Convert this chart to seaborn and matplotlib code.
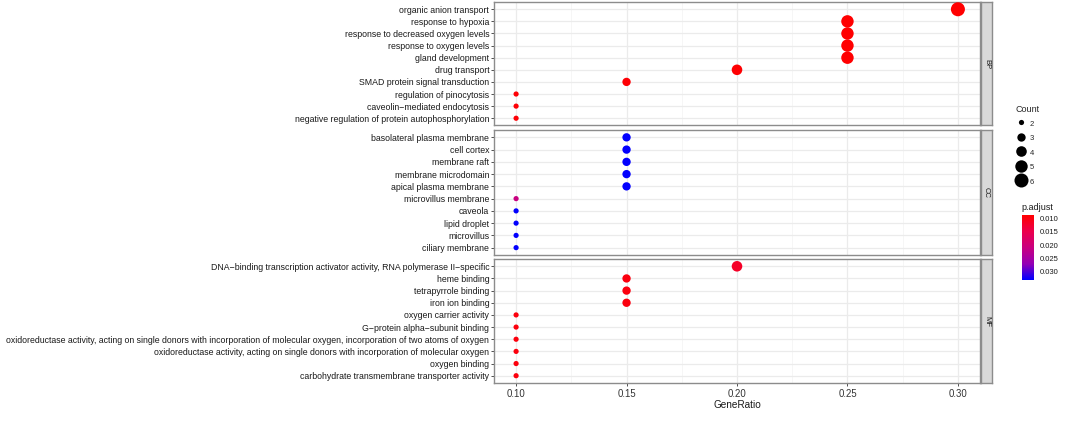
import numpy as np
import pandas as pd
import matplotlib
matplotlib.use("Agg")
import matplotlib.pyplot as plt
import seaborn as sns
from matplotlib.colors import LinearSegmentedColormap, Normalize
from matplotlib.cm import ScalarMappable
from matplotlib.lines import Line2D

sns.set_theme(style="white")
plt.rcParams["font.family"] = ["Liberation Sans", "DejaVu Sans"]

M = "\u2212"
# ---------------- data ----------------
ontologies = ["BP", "CC", "MF"]

bp_terms = ["organic anion transport", "response to hypoxia",
            "response to decreased oxygen levels", "response to oxygen levels",
            "gland development", "drug transport", "SMAD protein signal transduction",
            "regulation of pinocytosis", f"caveolin{M}mediated endocytosis",
            "negative regulation of protein autophosphorylation"]
bp_ratio = [0.30, 0.25, 0.25, 0.25, 0.25, 0.20, 0.15, 0.10, 0.10, 0.10]
bp_count = [6, 5, 5, 5, 5, 4, 3, 2, 2, 2]
bp_padj = [0.0087, 0.0087, 0.0087, 0.0087, 0.0087, 0.0088, 0.0089, 0.0090, 0.0090, 0.0090]

cc_terms = ["basolateral plasma membrane", "cell cortex", "membrane raft",
            "membrane microdomain", "apical plasma membrane", "microvillus membrane",
            "caveola", "lipid droplet", "microvillus", "ciliary membrane"]
cc_ratio = [0.15, 0.15, 0.15, 0.15, 0.15, 0.10, 0.10, 0.10, 0.10, 0.10]
cc_count = [3, 3, 3, 3, 3, 2, 2, 2, 2, 2]
cc_padj = [0.0330, 0.0330, 0.0330, 0.0330, 0.0330, 0.0210, 0.0330, 0.0330, 0.0330, 0.0330]

mf_terms = [f"DNA{M}binding transcription activator activity, RNA polymerase II{M}specific",
            "heme binding", "tetrapyrrole binding", "iron ion binding",
            "oxygen carrier activity", f"G{M}protein alpha{M}subunit binding",
            "oxidoreductase activity, acting on single donors with incorporation of molecular oxygen, incorporation of two atoms of oxygen",
            "oxidoreductase activity, acting on single donors with incorporation of molecular oxygen",
            "oxygen binding", "carbohydrate transmembrane transporter activity"]
mf_ratio = [0.20, 0.15, 0.15, 0.15, 0.10, 0.10, 0.10, 0.10, 0.10, 0.10]
mf_count = [4, 3, 3, 3, 2, 2, 2, 2, 2, 2]
mf_padj = [0.0118, 0.0098, 0.0098, 0.0098, 0.0097, 0.0097, 0.0097, 0.0097, 0.0097, 0.0097]

x_ticks = [0.10, 0.15, 0.20, 0.25, 0.30]
x_ticklabels = ["0.10", "0.15", "0.20", "0.25", "0.30"]
count_levels = [2, 3, 4, 5, 6]
padj_ticks = [0.010, 0.015, 0.020, 0.025, 0.030]
padj_ticklabels = ["0.010", "0.015", "0.020", "0.025", "0.030"]

groups = {
    "BP": (bp_terms, bp_ratio, bp_count, bp_padj),
    "CC": (cc_terms, cc_ratio, cc_count, cc_padj),
    "MF": (mf_terms, mf_ratio, mf_count, mf_padj),
}

# ---------------- styling ----------------
cmap = LinearSegmentedColormap.from_list(
    "rb", ["#FF0000", "#EC004C", "#C9007F", "#9500B4", "#0000FF"])
norm = Normalize(vmin=0.0086, vmax=0.0331)
SIZES = (14, 102)

W, H = 1065, 436
fig = plt.figure(figsize=(W / 100, H / 100), dpi=100)

panel_px = {"BP": (2, 125.5), "CC": (130, 255), "MF": (259, 383)}
left_px, right_px = 494, 980
strip_l, strip_r = 981, 992
border_col = "#8C8C8C"

for i, ont in enumerate(ontologies):
    terms, ratio, count, padj = groups[ont]
    top, bot = panel_px[ont]
    rect = [left_px / W, 1 - bot / H, (right_px - left_px) / W, (bot - top) / H]
    ax = fig.add_axes(rect)
    df = pd.DataFrame({"Description": terms, "GeneRatio": ratio,
                       "Count": count, "p.adjust": padj})
    sns.scatterplot(data=df, x="GeneRatio", y="Description", hue="p.adjust",
                    size="Count", palette=cmap, hue_norm=norm, sizes=SIZES,
                    size_norm=(2, 6), legend=False, edgecolor="none",
                    linewidth=0, ax=ax, zorder=3)
    n = len(terms)
    ax.set_xlim(0.09, 0.31)
    ax.set_ylim(n - 0.4, -0.6)
    ax.set_xticks(x_ticks)
    ax.set_xticks([0.125, 0.175, 0.225, 0.275], minor=True)
    ax.grid(which="major", color="#EBEBEB", linewidth=0.9)
    ax.grid(which="minor", axis="x", color="#F3F3F3", linewidth=0.5)
    ax.set_axisbelow(True)
    ax.set_facecolor("white")
    for sp in ax.spines.values():
        sp.set_color(border_col)
        sp.set_linewidth(1.0)
    ax.set_ylabel("")
    ax.tick_params(axis="y", left=True, length=2.5, width=0.6, color="#333333",
                   labelsize=6.32, labelcolor="#1A1A1A", pad=1)
    if ont == "MF":
        ax.set_xticklabels(x_ticklabels)
        ax.tick_params(axis="x", bottom=True, length=2.5, width=0.6, color="#333333",
                       labelsize=6.9, labelcolor="#333333", pad=1.5)
        ax.set_xlabel("GeneRatio", fontsize=7.2, color="#1A1A1A", labelpad=1)
    else:
        ax.set_xticklabels([])
        ax.tick_params(axis="x", bottom=False)
        ax.set_xlabel("")
    ax.tick_params(axis="x", which="minor", bottom=False)

    sax = fig.add_axes([strip_l / W, 1 - bot / H, (strip_r - strip_l) / W, (bot - top) / H])
    sax.set_facecolor("#D9D9D9")
    sax.set_xticks([]); sax.set_yticks([])
    for sp in sax.spines.values():
        sp.set_color(border_col)
        sp.set_linewidth(1.0)
    sax.text(0.5, 0.5, ont, rotation=-90, ha="center", va="center",
             fontsize=5.5, color="#1A1A1A", transform=sax.transAxes)

# ---------------- Count legend ----------------
handles = []
for c in count_levels:
    s = SIZES[0] + (SIZES[1] - SIZES[0]) * (c - 2) / 4
    handles.append(Line2D([], [], linestyle="none", marker="o", markersize=np.sqrt(s),
                          markerfacecolor="black", markeredgecolor="none"))
leg = fig.legend(handles, [str(c) for c in count_levels], title="Count",
                 loc="upper left", bbox_to_anchor=(1014 / W, 1 - 103 / H),
                 frameon=False, fontsize=5.5, title_fontsize=6.5,
                 handleheight=1.6, labelspacing=0.62, handlelength=1.4,
                 handletextpad=0.5, borderaxespad=0, borderpad=0.2,
                 alignment="left")

# ---------------- p.adjust colourbar ----------------
fig.text(1021 / W, 1 - 207 / H, "p.adjust", fontsize=6.5, color="#1A1A1A",
         ha="left", va="center")
cax = fig.add_axes([1022 / W, 1 - 280 / H, 12 / W, 65 / H])
cb = fig.colorbar(ScalarMappable(norm=norm, cmap=cmap), cax=cax)
cax.invert_yaxis()
cb.set_ticks(padj_ticks)
cb.set_ticklabels(padj_ticklabels)
cb.outline.set_visible(False)
cax.tick_params(length=2, width=0.6, color="white", labelsize=5.5,
                labelcolor="#1A1A1A", pad=2)

fig.savefig("out.png", dpi=100, facecolor="white")
